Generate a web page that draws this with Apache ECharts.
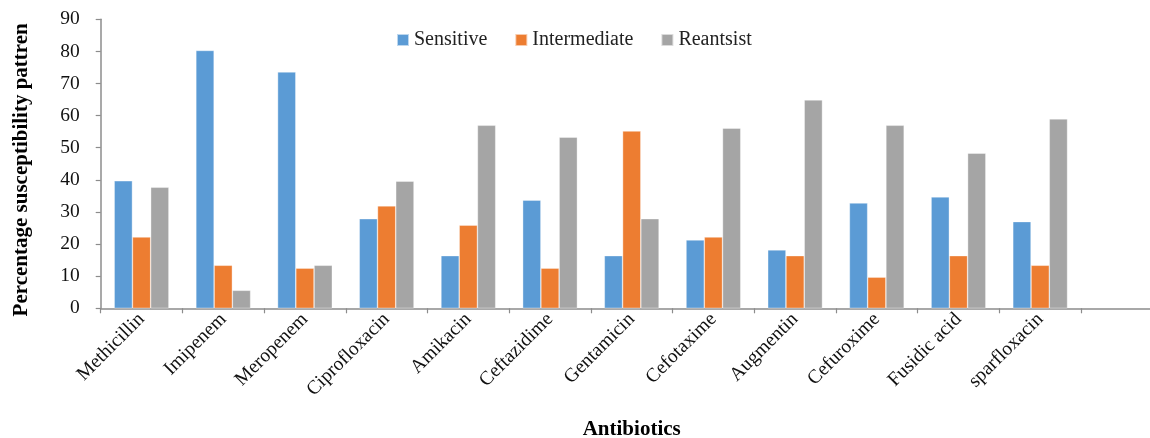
<!DOCTYPE html>
<html><head><meta charset="utf-8">
<script src="https://cdn.jsdelivr.net/npm/echarts@6/dist/echarts.min.js"></script>
<style>html,body{margin:0;padding:0;background:#fff}#c{width:1150px;height:438px}</style>
</head><body><div id="c"></div>
<script>
const categories = ['Methicillin','Imipenem','Meropenem','Ciprofloxacin','Amikacin','Ceftazidime','Gentamicin','Cefotaxime','Augmentin','Cefuroxime','Fusidic acid','sparfloxacin',''];
const sensitive    = [39.7, 80.3, 73.6, 27.9, 16.4, 33.7, 16.4, 21.3, 18.2, 32.8, 34.7, 27.0, null];
const intermediate = [22.2, 13.4, 12.5, 31.9, 25.9, 12.5, 55.2, 22.2, 16.4,  9.7, 16.4, 13.4, null];
const reantsist    = [37.7,  5.6, 13.4, 39.6, 57.0, 53.3, 27.9, 56.1, 64.9, 57.0, 48.3, 59.0, null];
const yTicks = {min: 0, max: 90, interval: 10};

const font = 'Liberation Serif';
const chart = echarts.init(document.getElementById('c'), null, {renderer: 'canvas'});
const barStyle = c => ({color: c, borderColor: 'rgba(255,255,255,0.6)', borderWidth: 0.6});
chart.setOption({
  animation: false,
  textStyle: {fontFamily: font, color: '#000'},
  legend: {
    top: 25, left: 391,
    itemWidth: 12, itemHeight: 12, itemGap: 27,
    icon: 'rect',
    textStyle: {fontFamily: font, fontSize: 20, color: '#222'},
    data: ['Sensitive', 'Intermediate', 'Reantsist']
  },
  grid: {left: 100.7, right: -12.7, top: 19.3, bottom: 129.7, containLabel: false, outerBoundsMode: 'none'},
  xAxis: {
    type: 'category',
    data: categories,
    name: 'Antibiotics',
    nameLocation: 'middle',
    nameGap: 111,
    nameTextStyle: {fontFamily: font, fontSize: 21, fontWeight: 'bold', color: '#000'},
    axisLine: {lineStyle: {color: '#8c8c8c', width: 1.5}},
    axisTick: {show: true, length: 5, alignWithLabel: false, lineStyle: {color: '#8c8c8c', width: 1.2}},
    axisLabel: {rotate: 45, interval: 0, fontFamily: font, fontSize: 19.5, color: '#111', margin: 8}
  },
  yAxis: {
    type: 'value',
    min: yTicks.min, max: yTicks.max, interval: yTicks.interval,
    name: 'Percentage susceptibility pattren',
    nameLocation: 'middle',
    nameGap: 69,
    nameRotate: 90,
    nameTextStyle: {fontFamily: font, fontSize: 21, fontWeight: 'bold', color: '#000', padding: [0, 12, 0, 0]},
    splitLine: {show: false},
    axisLine: {show: true, lineStyle: {color: '#8c8c8c', width: 1.5}},
    axisTick: {show: true, length: 5, lineStyle: {color: '#8c8c8c', width: 1.2}},
    axisLabel: {fontFamily: font, fontSize: 19.5, color: '#111', margin: 21}
  },
  series: [
    {name: 'Sensitive', type: 'bar', data: sensitive, itemStyle: barStyle('#5B9BD5'), barGap: '0%', barCategoryGap: '33%'},
    {name: 'Intermediate', type: 'bar', data: intermediate, itemStyle: barStyle('#ED7D31'), barGap: '0%', barCategoryGap: '33%'},
    {name: 'Reantsist', type: 'bar', data: reantsist, itemStyle: barStyle('#A5A5A5'), barGap: '0%', barCategoryGap: '33%'}
  ]
});
</script></body></html>
